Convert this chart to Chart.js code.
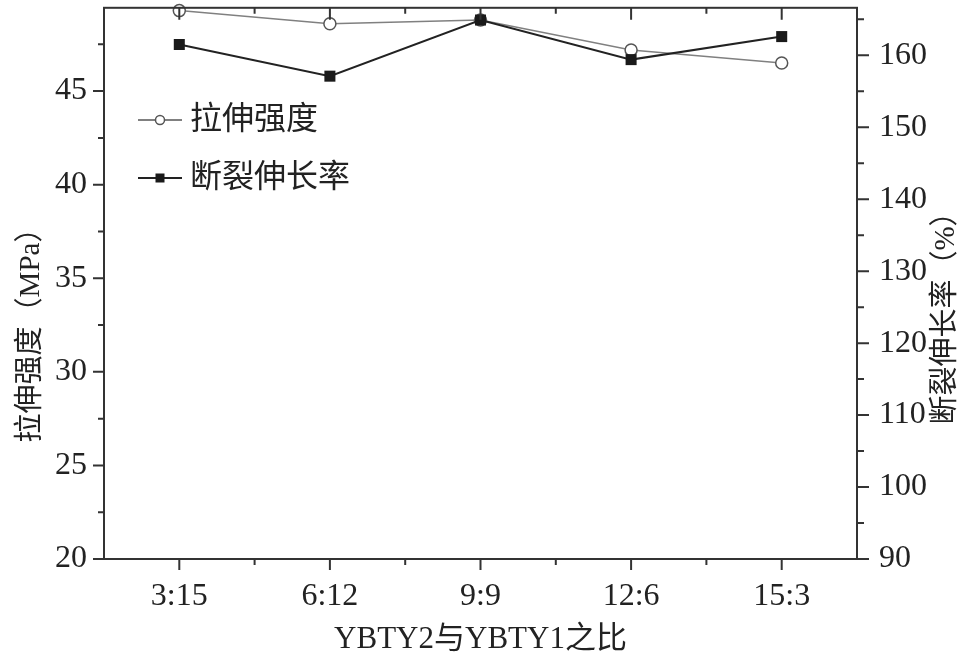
<!DOCTYPE html>
<html>
<head>
<meta charset="utf-8">
<script src="https://cdn.jsdelivr.net/npm/chart.js@4/dist/chart.umd.min.js"></script>
<style>
  html, body { margin: 0; padding: 0; background: #fff; }
  canvas { display: block; }
</style>
</head>
<body>
<canvas id="myChart" width="964" height="657"></canvas>
<script>
// data
const ratios = ['3:15', '6:12', '9:9', '12:6', '15:3'];
const strength = [49.3, 48.6, 48.8, 47.2, 46.5];      // MPa, left axis
const elongation = [161.5, 157.1, 164.9, 159.4, 162.6]; // %, right axis
const leftTicks = [20, 25, 30, 35, 40, 45];
const rightTicks = [90, 100, 110, 120, 130, 140, 150, 160];

const FONT = "'Liberation Serif', 'Noto Sans CJK SC', serif";
const INK = '#222';

const frameAndTicks = {
    id: 'frameAndTicks',
    afterDraw(chart) {
        const ctx = chart.ctx;
        const a = chart.chartArea;
        const x = chart.scales.x, y = chart.scales.y, y1 = chart.scales.y1;
        ctx.save();
        ctx.strokeStyle = '#333';
        ctx.lineWidth = 2;
        ctx.strokeRect(a.left, a.top, a.right - a.left, a.bottom - a.top);

        ctx.beginPath();
        // x ticks: outward at bottom, inward at top
        ratios.forEach(function (r, i) {
            const px = x.getPixelForValue(i);
            ctx.moveTo(px, a.bottom); ctx.lineTo(px, a.bottom + 11);
            ctx.moveTo(px, a.top); ctx.lineTo(px, a.top + 12);
            if (i < ratios.length - 1) {
                const mx = (px + x.getPixelForValue(i + 1)) / 2;
                ctx.moveTo(mx, a.bottom); ctx.lineTo(mx, a.bottom + 6);
                ctx.moveTo(mx, a.top); ctx.lineTo(mx, a.top + 6);
            }
        });
        // left ticks
        leftTicks.forEach(function (v) {
            const py = y.getPixelForValue(v);
            ctx.moveTo(a.left, py); ctx.lineTo(a.left - 11, py);
            const my = y.getPixelForValue(v + 2.5);
            if (my > a.top) { ctx.moveTo(a.left, my); ctx.lineTo(a.left - 6, my); }
        });
        // right ticks
        rightTicks.forEach(function (v) {
            const py = y1.getPixelForValue(v);
            ctx.moveTo(a.right, py); ctx.lineTo(a.right + 12, py);
            const my = y1.getPixelForValue(v + 5);
            if (my > a.top) { ctx.moveTo(a.right, my); ctx.lineTo(a.right + 7, my); }
        });
        ctx.stroke();

        // axis titles
        ctx.fillStyle = INK;
        ctx.textAlign = 'center';
        ctx.textBaseline = 'middle';
        ctx.font = '31px ' + FONT;
        ctx.fillText('YBTY2与YBTY1之比', (a.left + a.right) / 2, 640);

        ctx.font = '29px ' + FONT;
        ctx.save();
        ctx.translate(31, 328);
        ctx.rotate(-Math.PI / 2);
        ctx.fillText('拉伸强度（MPa）', 0, 0);
        ctx.restore();

        ctx.save();
        ctx.translate(946, 311);
        ctx.rotate(-Math.PI / 2);
        ctx.fillText('断裂伸长率（%）', 0, 0);
        ctx.restore();

        // legend
        ctx.textAlign = 'left';
        ctx.font = '32px ' + FONT;
        const rows = [
            { y: 120, ds: chart.data.datasets[0] },
            { y: 178, ds: chart.data.datasets[1] }
        ];
        rows.forEach(function (row) {
            const ds = row.ds;
            ctx.strokeStyle = ds.borderColor;
            ctx.lineWidth = 2;
            ctx.beginPath();
            ctx.moveTo(138, row.y); ctx.lineTo(182, row.y);
            ctx.stroke();
            ctx.fillStyle = ds.pointBackgroundColor;
            ctx.strokeStyle = ds.pointBorderColor;
            ctx.lineWidth = 1.5;
            if (ds.pointStyle === 'circle') {
                ctx.beginPath();
                ctx.arc(160, row.y, 4.5, 0, Math.PI * 2);
                ctx.fill(); ctx.stroke();
            } else {
                ctx.fillRect(155.5, row.y - 4.5, 9, 9);
            }
            ctx.fillStyle = INK;
            ctx.fillText(ds.label, 190, row.y + 1);
        });
        ctx.restore();
    }
};

document.addEventListener('DOMContentLoaded', function () {
    const ctx = document.getElementById('myChart').getContext('2d');

    new Chart(ctx, {
        type: 'line',
        data: {
            labels: ratios,
            datasets: [
                {
                    label: '拉伸强度',
                    data: strength,
                    yAxisID: 'y',
                    borderColor: '#808080',
                    borderWidth: 1.5,
                    pointStyle: 'circle',
                    pointRadius: 6,
                    pointBackgroundColor: '#ffffff',
                    pointBorderColor: '#555555',
                    pointBorderWidth: 1.5,
                    order: 1,
                    clip: false
                },
                {
                    label: '断裂伸长率',
                    data: elongation,
                    yAxisID: 'y1',
                    borderColor: '#222222',
                    borderWidth: 2,
                    pointStyle: 'rect',
                    pointRadius: 7.8,
                    pointBackgroundColor: '#1a1a1a',
                    pointBorderColor: '#1a1a1a',
                    pointBorderWidth: 0,
                    order: 0,
                    clip: false
                }
            ]
        },
        options: {
            responsive: false,
            animation: false,
            devicePixelRatio: 1,
            layout: { padding: { top: 3, left: 0, right: 0, bottom: 0 } },
            plugins: {
                legend: { display: false },
                tooltip: { enabled: false }
            },
            scales: {
                x: {
                    type: 'category',
                    offset: true,
                    grid: { display: false },
                    border: { display: false },
                    ticks: {
                        padding: 10,
                        color: INK,
                        maxRotation: 0,
                        font: { family: FONT, size: 32 }
                    },
                    afterFit: function (s) {
                        s.height = 98;
                        s.paddingLeft = 0; s.paddingRight = 0;
                    }
                },
                y: {
                    position: 'left',
                    min: 20,
                    max: 49.45,
                    grid: { display: false },
                    border: { display: false },
                    afterBuildTicks: function (s) {
                        s.ticks = leftTicks.map(function (v) { return { value: v }; });
                    },
                    ticks: {
                        padding: 9,
                        color: INK,
                        font: { family: FONT, size: 32 }
                    },
                    afterFit: function (s) {
                        s.width = 104;
                        s.paddingTop = 0; s.paddingBottom = 0;
                    }
                },
                y1: {
                    position: 'right',
                    min: 90,
                    max: 166.6,
                    grid: { display: false },
                    border: { display: false },
                    afterBuildTicks: function (s) {
                        s.ticks = rightTicks.map(function (v) { return { value: v }; });
                    },
                    ticks: {
                        padding: 14,
                        color: INK,
                        font: { family: FONT, size: 32 }
                    },
                    afterFit: function (s) {
                        s.width = 107;
                        s.paddingTop = 0; s.paddingBottom = 0;
                    }
                }
            }
        },
        plugins: [frameAndTicks]
    });
});
</script>
</body>
</html>
